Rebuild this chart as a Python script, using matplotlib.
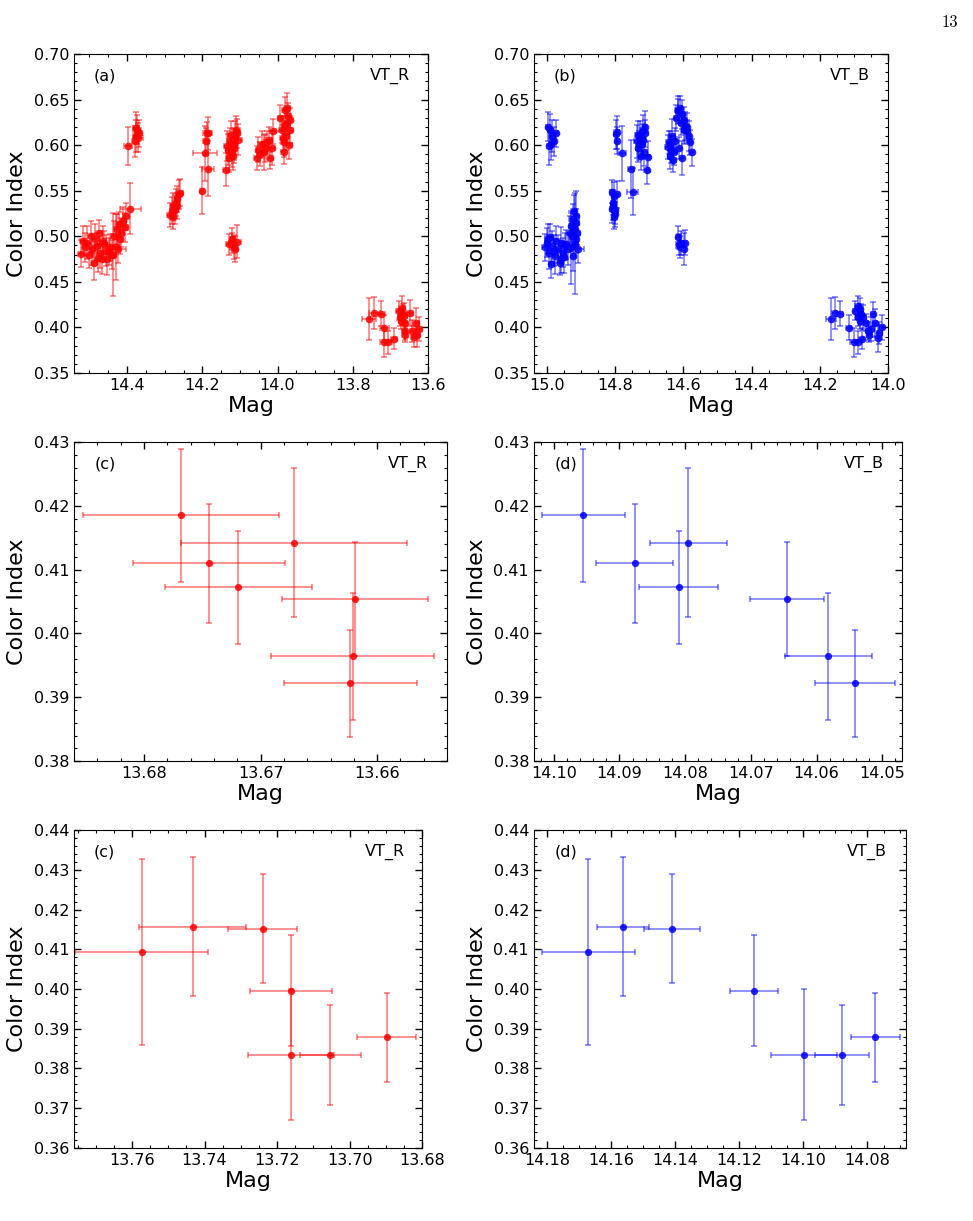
import numpy as np
import matplotlib.pyplot as plt
from matplotlib.ticker import MultipleLocator, AutoMinorLocator

# ---------------- zoom-in set 1 (middle row, panels c / d) ----------------
ci_1 = [0.4185, 0.4110, 0.4072, 0.4142, 0.4054, 0.3964, 0.3922]
ci_1_err = [0.0104, 0.0093, 0.0088, 0.0117, 0.0090, 0.0099, 0.0084]
r_1 = [13.6768, 13.6744, 13.6719, 13.6671, 13.6619, 13.6621, 13.6623]
r_1_err = [0.0084, 0.0065, 0.0063, 0.0097, 0.0063, 0.0070, 0.0057]
b_1 = [14.0955, 14.0877, 14.0810, 14.0795, 14.0645, 14.0582, 14.0542]
b_1_err = [0.0063, 0.0059, 0.0060, 0.0059, 0.0057, 0.0066, 0.0061]

# ---------------- zoom-in set 2 (bottom row) ----------------
ci_2 = [0.4093, 0.4157, 0.4152, 0.3996, 0.3835, 0.3835, 0.3878]
ci_2_err = [0.0234, 0.0175, 0.0137, 0.0139, 0.0164, 0.0126, 0.0113]
r_2 = [13.7573, 13.7433, 13.7239, 13.7161, 13.7161, 13.7053, 13.6898]
r_2_err = [0.0183, 0.0148, 0.0095, 0.0113, 0.0118, 0.0084, 0.0082]
b_2 = [14.1671, 14.1562, 14.1409, 14.1154, 14.0998, 14.0879, 14.0775]
b_2_err = [0.0145, 0.0082, 0.0088, 0.0076, 0.0102, 0.0085, 0.0077]

# ---------------- full data, VT_R (panel a) ----------------
r_mag = [14.522, 14.513, 14.507, 14.500, 14.492, 14.489, 14.484, 14.480, 14.475, 14.473,
         14.468, 14.462, 14.457, 14.453, 14.446, 14.439, 14.435, 14.428, 14.424, 14.421,
         14.415, 14.411, 14.406, 14.404, 14.391, 14.437, 14.430, 14.517, 14.495, 14.478,
         14.465, 14.448, 14.418,
         14.398, 14.377, 14.375, 14.373, 14.380, 14.371, 14.369,
         14.286, 14.281, 14.277, 14.273, 14.270, 14.266, 14.262, 14.259, 14.279, 14.268,
         14.201, 14.192, 14.189, 14.187, 14.185, 14.184,
         14.137, 14.135, 14.131, 14.126, 14.122, 14.117, 14.113, 14.110, 14.107, 14.104,
         14.119, 14.128, 14.115, 14.124,
         14.128, 14.122, 14.117, 14.108, 14.112, 14.120,
         14.055, 14.051, 14.042, 14.037, 14.028, 14.024, 14.020, 14.015, 14.033, 14.013, 14.046,
         13.993, 13.988, 13.984, 13.982, 13.980, 13.977, 13.975, 13.974, 13.971, 13.968,
         13.966, 13.979, 13.986, 13.970,
         13.648, 13.642, 13.633, 13.624, 13.638, 13.629, 13.668, 13.664]
r_ci = [0.481, 0.488, 0.493, 0.479, 0.486, 0.471, 0.497, 0.489, 0.504, 0.482,
        0.475, 0.491, 0.484, 0.475, 0.488, 0.480, 0.500, 0.508, 0.486, 0.513,
        0.504, 0.517, 0.510, 0.522, 0.530, 0.480, 0.488, 0.495, 0.500, 0.476,
        0.495, 0.483, 0.497,
        0.599, 0.619, 0.610, 0.617, 0.604, 0.608, 0.613,
        0.523, 0.528, 0.533, 0.529, 0.537, 0.541, 0.546, 0.548, 0.521, 0.533,
        0.550, 0.591, 0.604, 0.613, 0.574, 0.613,
        0.573, 0.599, 0.595, 0.604, 0.592, 0.601, 0.610, 0.617, 0.613, 0.606,
        0.588, 0.586, 0.597, 0.611,
        0.491, 0.493, 0.488, 0.494, 0.486, 0.497,
        0.586, 0.595, 0.601, 0.592, 0.603, 0.606, 0.586, 0.597, 0.597, 0.615, 0.590,
        0.630, 0.617, 0.592, 0.603, 0.639, 0.610, 0.624, 0.641, 0.632, 0.617,
        0.628, 0.622, 0.608, 0.600,
        0.416, 0.396, 0.405, 0.398, 0.390, 0.392, 0.421, 0.412]
r_mag_err = [0.008, 0.007, 0.008, 0.009, 0.007, 0.008, 0.009, 0.007, 0.008, 0.008,
             0.007, 0.009, 0.008, 0.007, 0.008, 0.009, 0.008, 0.007, 0.020, 0.008,
             0.007, 0.009, 0.008, 0.008, 0.027, 0.007, 0.008, 0.009, 0.008, 0.007,
             0.008, 0.009, 0.008,
             0.010, 0.008, 0.009, 0.010, 0.008, 0.012, 0.009,
             0.007, 0.006, 0.007, 0.008, 0.007, 0.006, 0.008, 0.007, 0.006, 0.007,
             0.006, 0.032, 0.008, 0.012, 0.015, 0.008,
             0.009, 0.008, 0.007, 0.009, 0.008, 0.007, 0.008, 0.009, 0.008, 0.010,
             0.008, 0.007, 0.008, 0.009,
             0.008, 0.007, 0.009, 0.010, 0.008, 0.007,
             0.008, 0.007, 0.009, 0.008, 0.007, 0.008, 0.009, 0.008, 0.007, 0.008, 0.009,
             0.007, 0.008, 0.007, 0.008, 0.007, 0.008, 0.007, 0.008, 0.007, 0.008,
             0.007, 0.008, 0.007, 0.008,
             0.008, 0.007, 0.008, 0.009, 0.008, 0.007, 0.008, 0.009]
r_ci_err = [0.015, 0.016, 0.018, 0.014, 0.017, 0.019, 0.016, 0.015, 0.014, 0.017,
            0.016, 0.015, 0.017, 0.018, 0.015, 0.016, 0.017, 0.016, 0.015, 0.014,
            0.016, 0.015, 0.016, 0.015, 0.028, 0.045, 0.036, 0.016, 0.017, 0.015,
            0.016, 0.015, 0.016,
            0.021, 0.017, 0.018, 0.016, 0.017, 0.016, 0.015,
            0.013, 0.015, 0.014, 0.016, 0.015, 0.014, 0.016, 0.015, 0.013, 0.014,
            0.026, 0.030, 0.015, 0.012, 0.030, 0.018,
            0.018, 0.016, 0.017, 0.015, 0.016, 0.017, 0.016, 0.015, 0.016, 0.017,
            0.015, 0.016, 0.017, 0.016,
            0.012, 0.011, 0.013, 0.018, 0.014, 0.012,
            0.013, 0.014, 0.015, 0.019, 0.013, 0.014, 0.012, 0.019, 0.015, 0.014, 0.013,
            0.014, 0.015, 0.013, 0.016, 0.014, 0.015, 0.013, 0.016, 0.014, 0.015,
            0.013, 0.016, 0.014, 0.015,
            0.014, 0.012, 0.016, 0.013, 0.012, 0.014, 0.013, 0.015]

# ---------------- full data, VT_B (panel b) ----------------
b_mag = [15.007, 15.000, 14.994, 14.990, 14.984, 14.977, 14.972, 14.968, 14.963, 14.958,
         14.953, 14.948, 14.938, 14.933, 14.928, 14.925, 14.921, 14.918, 14.916, 14.912,
         14.923, 14.909, 14.919, 14.930, 14.997, 14.980, 14.960, 14.943, 14.915, 14.987,
         14.950, 14.926, 14.914,
         14.997, 14.992, 14.994, 14.984, 14.979, 14.974, 14.988,
         14.810, 14.805, 14.801, 14.803, 14.796, 14.807, 14.799, 14.808, 14.802,
         14.796, 14.794, 14.781, 14.754, 14.749, 14.798,
         14.737, 14.732, 14.727, 14.722, 14.719, 14.717, 14.715, 14.712, 14.707, 14.705,
         14.725, 14.729, 14.713, 14.734,
         14.617, 14.614, 14.607, 14.599, 14.594, 14.611,
         14.643, 14.640, 14.636, 14.633, 14.630, 14.624, 14.614, 14.604, 14.638, 14.628, 14.646,
         14.621, 14.617, 14.611, 14.604, 14.599, 14.594, 14.589, 14.584, 14.580, 14.575,
         14.608, 14.597, 14.615, 14.590,
         14.083, 14.074, 14.049, 14.039, 14.025, 14.018, 14.044, 14.030, 14.089]
b_ci = [0.488, 0.493, 0.482, 0.499, 0.489, 0.478, 0.495, 0.486, 0.471, 0.493,
        0.482, 0.489, 0.486, 0.504, 0.511, 0.519, 0.528, 0.508, 0.497, 0.504,
        0.478, 0.486, 0.492, 0.488, 0.497, 0.484, 0.475, 0.491, 0.515, 0.470,
        0.477, 0.500, 0.522,
        0.620, 0.617, 0.599, 0.610, 0.604, 0.613, 0.601,
        0.549, 0.533, 0.524, 0.544, 0.546, 0.537, 0.529, 0.530, 0.521,
        0.614, 0.605, 0.591, 0.574, 0.549, 0.612,
        0.604, 0.597, 0.610, 0.601, 0.617, 0.606, 0.593, 0.613, 0.573, 0.587,
        0.588, 0.600, 0.620, 0.611,
        0.499, 0.491, 0.493, 0.486, 0.493, 0.488,
        0.603, 0.588, 0.595, 0.610, 0.584, 0.605, 0.597, 0.586, 0.600, 0.592, 0.598,
        0.630, 0.639, 0.641, 0.634, 0.628, 0.621, 0.615, 0.610, 0.603, 0.592,
        0.624, 0.617, 0.637, 0.620,
        0.420, 0.411, 0.398, 0.405, 0.394, 0.400, 0.415, 0.388, 0.424]
b_mag_err = [0.008, 0.007, 0.008, 0.009, 0.007, 0.008, 0.009, 0.007, 0.008, 0.008,
             0.007, 0.009, 0.008, 0.007, 0.008, 0.009, 0.008, 0.007, 0.008, 0.008,
             0.007, 0.018, 0.008, 0.008, 0.009, 0.007, 0.008, 0.009, 0.008, 0.007,
             0.008, 0.009, 0.008,
             0.007, 0.006, 0.007, 0.008, 0.007, 0.006, 0.007,
             0.006, 0.007, 0.006, 0.007, 0.008, 0.006, 0.007, 0.006, 0.007,
             0.006, 0.006, 0.012, 0.008, 0.016, 0.006,
             0.007, 0.006, 0.007, 0.008, 0.007, 0.006, 0.007, 0.008, 0.007, 0.006,
             0.007, 0.006, 0.007, 0.008,
             0.006, 0.007, 0.006, 0.007, 0.006, 0.007,
             0.007, 0.006, 0.007, 0.008, 0.007, 0.006, 0.007, 0.006, 0.007, 0.008, 0.007,
             0.006, 0.007, 0.006, 0.007, 0.006, 0.007, 0.006, 0.007, 0.006, 0.007,
             0.006, 0.007, 0.008, 0.006,
             0.007, 0.008, 0.007, 0.006, 0.008, 0.007, 0.006, 0.007, 0.008]
b_ci_err = [0.015, 0.016, 0.018, 0.014, 0.017, 0.019, 0.016, 0.015, 0.014, 0.017,
            0.016, 0.015, 0.017, 0.018, 0.015, 0.016, 0.017, 0.016, 0.015, 0.014,
            0.016, 0.015, 0.055, 0.040, 0.016, 0.017, 0.015, 0.016, 0.015, 0.016,
            0.017, 0.016, 0.028,
            0.016, 0.017, 0.021, 0.018, 0.016, 0.015, 0.017,
            0.013, 0.015, 0.014, 0.016, 0.015, 0.014, 0.016, 0.015, 0.013,
            0.018, 0.015, 0.030, 0.032, 0.026, 0.016,
            0.018, 0.016, 0.017, 0.015, 0.016, 0.017, 0.016, 0.015, 0.016, 0.017,
            0.015, 0.016, 0.017, 0.016,
            0.012, 0.011, 0.013, 0.018, 0.014, 0.012,
            0.013, 0.014, 0.015, 0.019, 0.013, 0.014, 0.012, 0.019, 0.015, 0.014, 0.013,
            0.014, 0.015, 0.013, 0.016, 0.014, 0.015, 0.013, 0.016, 0.014, 0.015,
            0.013, 0.016, 0.014, 0.015,
            0.012, 0.014, 0.013, 0.015, 0.012, 0.014, 0.013, 0.015, 0.011]

# the zoomed points belong to the full light curve too
r_mag_all = np.concatenate([r_mag, r_1, r_2])
r_ci_all = np.concatenate([r_ci, ci_1, ci_2])
r_mag_err_all = np.concatenate([r_mag_err, r_1_err, r_2_err])
r_ci_err_all = np.concatenate([r_ci_err, ci_1_err, ci_2_err])
b_mag_all = np.concatenate([b_mag, b_1, b_2])
b_ci_all = np.concatenate([b_ci, ci_1, ci_2])
b_mag_err_all = np.concatenate([b_mag_err, b_1_err, b_2_err])
b_ci_err_all = np.concatenate([b_ci_err, ci_1_err, ci_2_err])


def draw(ax, x, y, xe, ye, color, ms):
    ax.errorbar(x, y, xerr=xe, yerr=ye, fmt='none', ecolor=color, alpha=0.5,
                elinewidth=1.2, capsize=2, capthick=1.2)
    ax.plot(x, y, 'o', color=color, ms=ms, alpha=0.85, mec='none')


def style(ax, xlim, ylim, xstep, ystep, tag, name):
    ax.set_xlim(xlim)
    ax.set_ylim(ylim)
    ax.xaxis.set_major_locator(MultipleLocator(xstep))
    ax.yaxis.set_major_locator(MultipleLocator(ystep))
    ax.xaxis.set_minor_locator(AutoMinorLocator())
    ax.yaxis.set_minor_locator(AutoMinorLocator())
    ax.ticklabel_format(useOffset=False)
    ax.tick_params(which='both', direction='in', top=True, right=True, labelsize=11.5)
    ax.tick_params(which='major', length=5, width=1)
    ax.tick_params(which='minor', length=2.5, width=0.8)
    ax.set_xlabel('Mag', fontsize=16, labelpad=2)
    ax.set_ylabel('Color Index', fontsize=16, labelpad=5)
    ax.text(0.055, 0.93, tag, transform=ax.transAxes, fontsize=11.5, va='center')
    ax.text(0.95, 0.93, name, transform=ax.transAxes, fontsize=11.5, va='center', ha='right')


fig = plt.figure(figsize=(9.73, 12.21), dpi=100)

ax_a = fig.add_axes([0.0761, 0.6945, 0.3638, 0.2613])
ax_b = fig.add_axes([0.5488, 0.6945, 0.3638, 0.2613])
ax_c = fig.add_axes([0.0761, 0.3767, 0.3834, 0.2613])
ax_d = fig.add_axes([0.5488, 0.3767, 0.3782, 0.2613])
ax_e = fig.add_axes([0.0761, 0.0598, 0.3577, 0.2604])
ax_f = fig.add_axes([0.5488, 0.0598, 0.3823, 0.2604])

draw(ax_a, r_mag_all, r_ci_all, r_mag_err_all, r_ci_err_all, 'red', 5.5)
draw(ax_b, b_mag_all, b_ci_all, b_mag_err_all, b_ci_err_all, 'blue', 5.5)
draw(ax_c, r_1, ci_1, r_1_err, ci_1_err, 'red', 5.2)
draw(ax_d, b_1, ci_1, b_1_err, ci_1_err, 'blue', 5.2)
draw(ax_e, r_2, ci_2, r_2_err, ci_2_err, 'red', 5.2)
draw(ax_f, b_2, ci_2, b_2_err, ci_2_err, 'blue', 5.2)

style(ax_a, (14.541, 13.6), (0.35, 0.70), 0.2, 0.05, '(a)', 'VT_R')
style(ax_b, (15.038, 14.0), (0.35, 0.70), 0.2, 0.05, '(b)', 'VT_B')
style(ax_c, (13.686, 13.654), (0.38, 0.43), 0.01, 0.01, '(c)', 'VT_R')
style(ax_d, (14.103, 14.047), (0.38, 0.43), 0.01, 0.01, '(d)', 'VT_B')
style(ax_e, (13.776, 13.68), (0.36, 0.44), 0.02, 0.01, '(c)', 'VT_R')
style(ax_f, (14.184, 14.068), (0.36, 0.44), 0.02, 0.01, '(d)', 'VT_B')

# page number
fig.text(0.985, 0.988, '13', family='cmr10', fontsize=12, ha='right', va='top')

fig.savefig('out.png', dpi=100)
